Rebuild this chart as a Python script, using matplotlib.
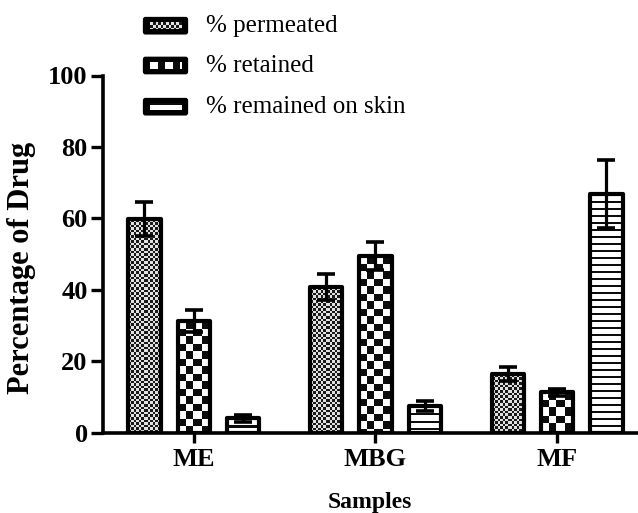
import numpy as np
import matplotlib
matplotlib.use("Agg")
import matplotlib.pyplot as plt
from matplotlib.patches import FancyBboxPatch

samples = ["ME", "MBG", "MF"]
series = ["% permeated", "% retained", "% remained on skin"]
permeated = [59.8, 40.8, 16.5]
permeated_err = [4.8, 3.6, 2.0]
retained = [31.3, 49.5, 11.3]
retained_err = [3.0, 4.0, 1.0]
remained = [4.0, 7.4, 66.8]
remained_err = [1.0, 1.4, 9.6]
y_ticks = [0, 20, 40, 60, 80, 100]

values = [permeated, retained, remained]
errors = [permeated_err, retained_err, remained_err]
fills = ["fine", "checker", "stripe"]

plt.rcParams["font.family"] = ["Liberation Serif", "DejaVu Serif"]

W, H = 638, 513
fig = plt.figure(figsize=(W / 100, H / 100), dpi=100)
ax = fig.add_axes([103 / W, 1 - 432.7 / H, (637 - 103) / W, (432.7 - 75.5) / H])


def pattern(kind, w_px, h_px):
    rows = max(int(round(h_px)), 1)
    cols = max(int(round(w_px)), 1)
    i, j = np.mgrid[0:rows, 0:cols]
    if kind == "fine":
        v = (np.floor(i / 2.6) + np.floor(j / 2.6)) % 2
        return np.where(v == 1, 0.1, 0.88)
    if kind == "checker":
        v = (np.floor(i / 7.5) + np.floor(j / 7.5)) % 2
        return np.where(v == 1, 0.05, 1.0)
    return np.where(i % 7 < 2, 0.05, 1.0)


xlim = (-0.5, 2.44)
ylim = (0, 100)
ax.set_xlim(*xlim)
ax.set_ylim(*ylim)

x = np.arange(len(samples))
width = 0.178
offsets = [-0.272, 0.0, 0.272]
px_x = ax.get_position().width * W / (xlim[1] - xlim[0])
px_y = ax.get_position().height * H / (ylim[1] - ylim[0])

for vals, errs, off, kind in zip(values, errors, offsets, fills):
    bars = ax.bar(x + off, vals, width, facecolor="none", edgecolor="black",
                  linewidth=3.0, joinstyle="round", zorder=3)
    for b in bars:
        x0, w, h = b.get_x(), b.get_width(), b.get_height()
        img = pattern(kind, w * px_x, h * px_y)
        im = ax.imshow(img, cmap="gray", vmin=0, vmax=1, interpolation="nearest",
                       extent=(x0, x0 + w, 0, h), aspect="auto", zorder=2)
        im.set_clip_path(b)
    ax.errorbar(x + off, vals, yerr=errs, fmt="none", ecolor="black",
                elinewidth=2.3, capsize=6.8, capthick=2.6, zorder=4)

ax.set_xlim(*xlim)
ax.set_ylim(*ylim)
ax.set_aspect("auto")

for s in ["top", "right"]:
    ax.spines[s].set_visible(False)
for s in ["left", "bottom"]:
    ax.spines[s].set_linewidth(2.6)
    ax.spines[s].set_capstyle("projecting")

ax.set_yticks(y_ticks)
ax.set_xticks(x)
ax.set_xticklabels(samples)
ax.tick_params(axis="y", length=9, width=2.4, pad=2)
ax.tick_params(axis="x", length=7, width=2.4, pad=4)
for lab in ax.get_xticklabels() + ax.get_yticklabels():
    lab.set_fontsize(19)
    lab.set_fontweight("bold")

ax.set_ylabel("Percentage of Drug", fontsize=22, fontweight="bold")
ax.yaxis.set_label_coords(-0.126, 0.46)
ax.set_xlabel("Samples", fontsize=17, fontweight="bold", labelpad=15)

# legend drawn by hand above the plot
lax = fig.add_axes([0, 0, 1, 1], zorder=5)
lax.axis("off")
rows_y = [25.7, 65.5, 106.7]
for name, kind, yc in zip(series, fills, rows_y):
    box = FancyBboxPatch((145.5, yc - 6.2), 40, 12.4, boxstyle="round,pad=1.6",
                         facecolor="black", edgecolor="black", linewidth=1.5)
    lax.add_patch(box)
    img = pattern(kind, 32, 7)
    lax.imshow(img, cmap="gray", vmin=0, vmax=1, interpolation="nearest",
               extent=(150, 182, yc + 3.5, yc - 3.5), aspect="auto", zorder=3)
    lax.text(206, yc, name, fontsize=18, va="center", ha="left")
lax.set_xlim(0, W)
lax.set_ylim(H, 0)

fig.savefig("out.png", dpi=100)
